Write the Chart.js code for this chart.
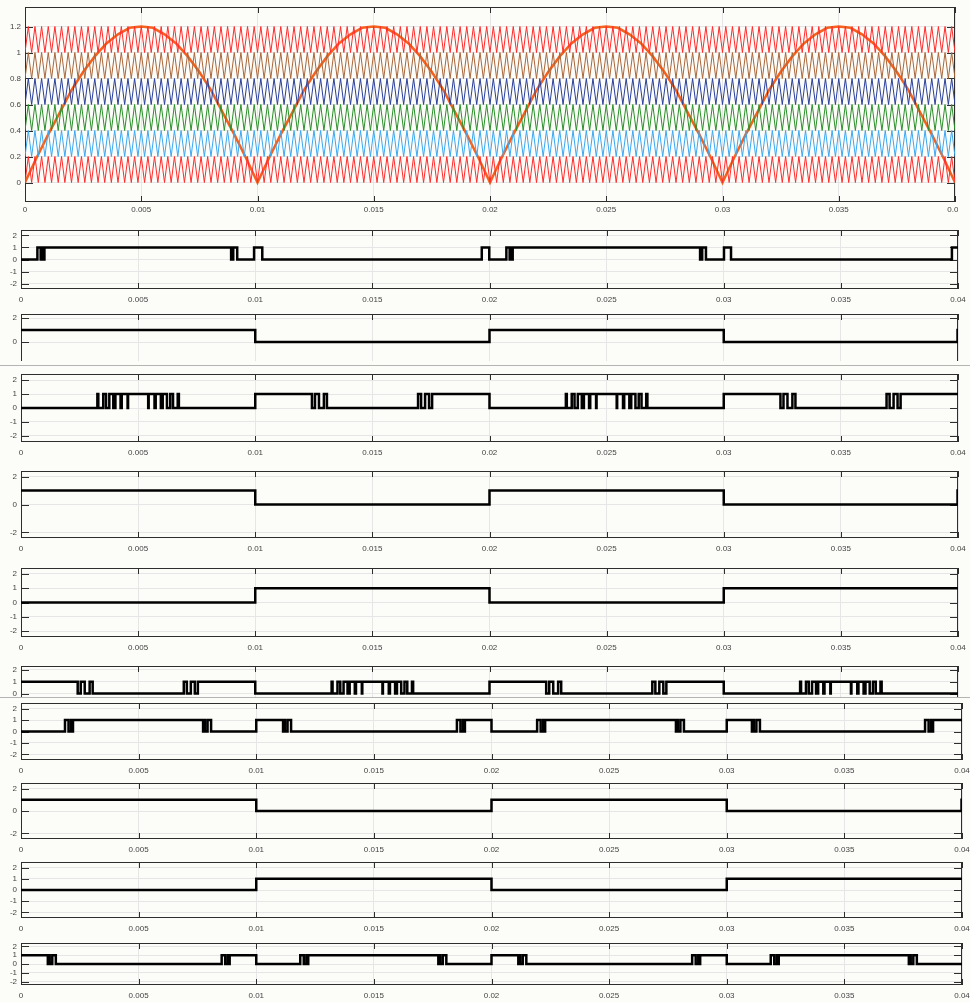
<!DOCTYPE html>
<html>
<head>
<meta charset="utf-8">
<script src="https://cdn.jsdelivr.net/npm/chart.js@4.4.0/dist/chart.umd.min.js"></script>
<style>
  html, body { margin: 0; padding: 0; }
  body { width: 970px; height: 1002px; position: relative; overflow: hidden; background: #fcfcf9; }
  .panel { position: absolute; left: 0; overflow: hidden; }
  .panel canvas { display: block; }
  .sep { position: absolute; left: 0; width: 970px; height: 1px; background: #b4b4b4; }
</style>
</head>
<body>
<div class="sep" style="top:365px"></div>
<div class="sep" style="top:697px"></div>
<script>
// time axis (s)
const timeTicks = [0, 0.005, 0.01, 0.015, 0.02, 0.025, 0.03, 0.035, 0.04];
const timeLabels = ['0', '0.005', '0.01', '0.015', '0.02', '0.025', '0.03', '0.035', '0.04'];

// top plot: six level-shifted triangle carriers + rectified reference
const levelTicks = [0, 0.2, 0.4, 0.6, 0.8, 1, 1.2];
const levelLabels = ['0', '0.2', '0.4', '0.6', '0.8', '1', '1.2'];
const carrierLevels = [0, 0.2, 0.4, 0.6, 0.8, 1.0];
const carrierSwing = 0.2;
const carrierCycles = 140;      // peaks counted over 0..0.04 s
const refStep = 0.0005;
const refValues = [
  0, 0.19, 0.37, 0.54, 0.71, 0.85, 0.97, 1.07, 1.14, 1.19, 1.2, 1.19, 1.14, 1.07, 0.97, 0.85, 0.71, 0.54, 0.37, 0.19,
  0, 0.19, 0.37, 0.54, 0.71, 0.85, 0.97, 1.07, 1.14, 1.19, 1.2, 1.19, 1.14, 1.07, 0.97, 0.85, 0.71, 0.54, 0.37, 0.19,
  0, 0.19, 0.37, 0.54, 0.71, 0.85, 0.97, 1.07, 1.14, 1.19, 1.2, 1.19, 1.14, 1.07, 0.97, 0.85, 0.71, 0.54, 0.37, 0.19,
  0, 0.19, 0.37, 0.54, 0.71, 0.85, 0.97, 1.07, 1.14, 1.19, 1.2, 1.19, 1.14, 1.07, 0.97, 0.85, 0.71, 0.54, 0.37, 0.19,
  0
];

// gate signals: level at t=0, then the switching instants (s)
const g1Start = 0;
const g1Edges = [0.0007, 0.00084, 0.00093, 0.00097, 0.001, 0.00897, 0.009, 0.00903, 0.00906, 0.00923,
  0.00995, 0.0103, 0.01967, 0.01999, 0.02072, 0.02086, 0.02092, 0.02095, 0.02099,
  0.02899, 0.02902, 0.02905, 0.02908, 0.02924, 0.03001, 0.03031, 0.03974];
const g2Start = 1;
const g2Edges = [0.01, 0.02, 0.03, 0.03998];
const g3Start = 0;
const g3Edges = [0.00326, 0.0033, 0.00351, 0.00363, 0.00377, 0.00394, 0.00403, 0.00425, 0.0043, 0.00455, 0.00457,
  0.00543, 0.00545, 0.0057, 0.00575, 0.00597, 0.00605, 0.00623, 0.00637, 0.00649, 0.00669, 0.00674,
  0.01, 0.01242, 0.01255, 0.01272, 0.01293, 0.01306, 0.01695, 0.01708, 0.01725, 0.01742, 0.01755, 0.02,
  0.02326, 0.0233, 0.02351, 0.02363, 0.02377, 0.02394, 0.02403, 0.02425, 0.0243, 0.02455, 0.02457,
  0.02543, 0.02545, 0.0257, 0.02575, 0.02597, 0.02605, 0.02623, 0.02637, 0.02649, 0.02669, 0.02674,
  0.03, 0.03242, 0.03255, 0.03272, 0.03293, 0.03306, 0.03695, 0.03708, 0.03725, 0.03742, 0.03755];
const g4Start = 1;
const g4Edges = [0.01, 0.02, 0.03, 0.03998];
const g5Start = 0;
const g5Edges = [0.01, 0.02, 0.03];
const g6Start = 1;
const g6Edges = [0.00242, 0.00255, 0.00272, 0.00293, 0.00306, 0.00695, 0.00708, 0.00725, 0.00742, 0.00755, 0.01,
  0.01326, 0.0133, 0.01351, 0.01363, 0.01377, 0.01394, 0.01403, 0.01425, 0.0143, 0.01455, 0.01457,
  0.01543, 0.01545, 0.0157, 0.01575, 0.01597, 0.01605, 0.01623, 0.01637, 0.01649, 0.01669, 0.01674, 0.02,
  0.02242, 0.02255, 0.02272, 0.02293, 0.02306, 0.02695, 0.02708, 0.02725, 0.02742, 0.02755, 0.03,
  0.03326, 0.0333, 0.03351, 0.03363, 0.03377, 0.03394, 0.03403, 0.03425, 0.0343, 0.03455, 0.03457,
  0.03543, 0.03545, 0.0357, 0.03575, 0.03597, 0.03605, 0.03623, 0.03637, 0.03649, 0.03669, 0.03674];
const g7Start = 0;
const g7Edges = [0.00187, 0.00202, 0.00213, 0.00217, 0.00221, 0.00774, 0.00778, 0.00782, 0.00793, 0.00808,
  0.01, 0.01114, 0.01118, 0.01122, 0.01133, 0.01148, 0.01853, 0.01868, 0.01879, 0.01883, 0.01887,
  0.02, 0.02194, 0.02209, 0.0222, 0.02224, 0.02228, 0.02784, 0.02788, 0.02792, 0.02803, 0.02818,
  0.03, 0.03107, 0.03111, 0.03115, 0.03126, 0.03141, 0.03843, 0.03858, 0.03869, 0.03873, 0.03877];
const g8Start = 1;
const g8Edges = [0.01, 0.02, 0.03, 0.03998];
const g9Start = 0;
const g9Edges = [0.01, 0.02, 0.03];
const g10Start = 1;
const g10Edges = [0.00114, 0.00118, 0.00122, 0.00133, 0.00148, 0.00853, 0.00868, 0.00879, 0.00883, 0.00887,
  0.01, 0.01187, 0.01202, 0.01213, 0.01217, 0.01221, 0.01774, 0.01778, 0.01782, 0.01793, 0.01808,
  0.02, 0.02114, 0.02118, 0.02122, 0.02133, 0.02148, 0.02853, 0.02868, 0.02879, 0.02883, 0.02887,
  0.03, 0.03187, 0.03202, 0.03213, 0.03217, 0.03221, 0.03774, 0.03778, 0.03782, 0.03793, 0.03808];

const gateTicks1 = [-2, -1, 0, 1, 2];
const gateTicks2 = [-2, 0, 2];

// ---------------------------------------------------------------
const carrierColors = ['#ff2b2b', '#3ba7f2', '#2b8f2b', '#2a3f9a', '#a9663b', '#ff2b2b'];

Chart.defaults.font.family = '"Liberation Sans", Arial, sans-serif';
Chart.defaults.font.size = 8;
Chart.defaults.color = '#444';

const frame = {
  id: 'frame',
  beforeDatasetsDraw(chart) {
    const { ctx, chartArea: a, scales: { x, y } } = chart;
    ctx.save();
    ctx.strokeStyle = '#2e2e2e';
    ctx.lineWidth = 1;
    ctx.strokeRect(Math.round(a.left) + 0.5, Math.round(a.top) + 0.5,
      Math.round(a.right) - Math.round(a.left) - 1, Math.round(a.bottom) - Math.round(a.top) - 1);
    ctx.beginPath();
    x.ticks.forEach(t => {
      const px = Math.round(x.getPixelForValue(t.value)) + 0.5;
      ctx.moveTo(px, a.top); ctx.lineTo(px, a.top + 6);
      ctx.moveTo(px, a.bottom); ctx.lineTo(px, a.bottom - 6);
    });
    y.ticks.forEach(t => {
      const py = Math.round(y.getPixelForValue(t.value)) + 0.5;
      ctx.moveTo(a.left, py); ctx.lineTo(a.left + 8, py);
      ctx.moveTo(a.right, py); ctx.lineTo(a.right - 8, py);
    });
    ctx.stroke();
    ctx.restore();
  }
};

function stepPoints(start, edges) {
  const pts = [{ x: 0, y: start }];
  let v = start;
  edges.forEach(t => { v = 1 - v; pts.push({ x: t, y: v }); });
  pts.push({ x: 0.04, y: v });
  return pts;
}

function makePanel(cfg, datasets, yMin, yMax, yTicks, yLabel) {
  const labelH = cfg.labels ? 18 : 2;
  const canvasW = cfg.right + 14;
  const canvasH = (cfg.bottom - cfg.top) + 4 + labelH;
  const box = document.createElement('div');
  box.className = 'panel';
  box.style.top = (cfg.top - 4) + 'px';
  box.style.width = (cfg.clipW || Math.min(970, canvasW)) + 'px';
  box.style.height = (cfg.clipH || canvasH) + 'px';
  const cv = document.createElement('canvas');
  cv.width = canvasW;
  cv.height = canvasH;
  cv.style.width = canvasW + 'px';
  cv.style.height = canvasH + 'px';
  box.appendChild(cv);
  document.body.appendChild(box);

  new Chart(cv, {
    type: 'line',
    data: { datasets },
    options: {
      responsive: false,
      animation: false,
      devicePixelRatio: 1,
      layout: { autoPadding: false, padding: { top: 4, left: 0, bottom: 0, right: canvasW - cfg.right } },
      plugins: { legend: { display: false }, tooltip: { enabled: false } },
      elements: { point: { radius: 0 } },
      scales: {
        x: {
          type: 'linear', min: 0, max: 0.04,
          afterBuildTicks: s => { s.ticks = timeTicks.map(v => ({ value: v })); },
          afterFit: s => { s.height = labelH; s.paddingLeft = 0; s.paddingRight = 0; },
          grid: { color: '#e6e6e6', drawTicks: false },
          border: { display: false },
          ticks: { display: cfg.labels, padding: cfg.labelPad || 6, maxRotation: 0, autoSkip: false,
            callback: (v, i) => timeLabels[i] }
        },
        y: {
          min: yMin, max: yMax,
          afterBuildTicks: s => { s.ticks = yTicks.map(v => ({ value: v })); },
          afterFit: s => { s.width = cfg.left; s.paddingTop = 0; s.paddingBottom = 0; },
          grid: { color: '#e6e6e6', drawTicks: false },
          border: { display: false },
          ticks: { padding: 4, autoSkip: false, callback: yLabel }
        }
      }
    },
    plugins: [frame]
  });
}

function gateSet(start, edges) {
  return [{
    data: stepPoints(start, edges),
    stepped: true,
    borderColor: '#000',
    borderWidth: 2.5,
    fill: false
  }];
}

const plain = v => String(v);

// top plot
const topSets = carrierLevels.map((lvl, i) => {
  const half = 0.04 / carrierCycles / 2;
  const pts = [];
  for (let k = 0; k <= carrierCycles * 2; k++) pts.push({ x: k * half, y: lvl + (k % 2 ? carrierSwing : 0) });
  return { data: pts, borderColor: carrierColors[i], borderWidth: 1, fill: false };
});
topSets.push({
  data: refValues.map((v, i) => ({ x: i * refStep, y: v })),
  borderColor: '#f4621f', borderWidth: 2.5, fill: false
});
makePanel({ top: 7, bottom: 202, left: 25, right: 955, labels: true, labelPad: 3, clipW: 958 },
  topSets, -0.15, 1.35, levelTicks, v => levelLabels[levelTicks.indexOf(v)]);

makePanel({ top: 230, bottom: 289, left: 21, right: 958, labels: true }, gateSet(g1Start, g1Edges), -2.45, 2.45, gateTicks1, plain);
makePanel({ top: 314, bottom: 370, left: 21, right: 958, labels: false, clipH: 51 }, gateSet(g2Start, g2Edges), -2.35, 2.35, gateTicks2, plain);
makePanel({ top: 374, bottom: 442, left: 21, right: 958, labels: true }, gateSet(g3Start, g3Edges), -2.45, 2.45, gateTicks1, plain);
makePanel({ top: 471, bottom: 538, left: 21, right: 958, labels: true }, gateSet(g4Start, g4Edges), -2.4, 2.4, gateTicks2, plain);
makePanel({ top: 568, bottom: 637, left: 21, right: 958, labels: true }, gateSet(g5Start, g5Edges), -2.42, 2.42, gateTicks1, plain);
makePanel({ top: 666, bottom: 721, left: 21, right: 958, labels: false, clipH: 35 }, gateSet(g6Start, g6Edges), -2.34, 2.34, gateTicks1, plain);
makePanel({ top: 703, bottom: 760, left: 21, right: 962, labels: true }, gateSet(g7Start, g7Edges), -2.5, 2.5, gateTicks1, plain);
makePanel({ top: 783, bottom: 839, left: 21, right: 962, labels: true }, gateSet(g8Start, g8Edges), -2.5, 2.5, gateTicks2, plain);
makePanel({ top: 862, bottom: 918, left: 21, right: 962, labels: true }, gateSet(g9Start, g9Edges), -2.5, 2.5, gateTicks1, plain);
makePanel({ top: 943, bottom: 985, left: 21, right: 962, labels: true }, gateSet(g10Start, g10Edges), -2.4, 2.4, gateTicks1, plain);
</script>
</body>
</html>
